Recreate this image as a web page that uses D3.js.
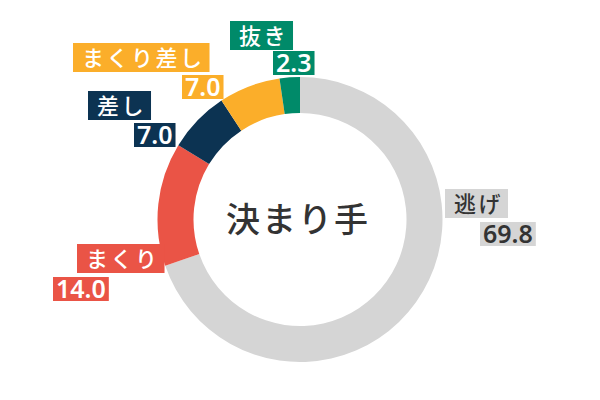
<!DOCTYPE html>
<html>
<head>
<meta charset="utf-8">
<script src="https://cdn.jsdelivr.net/npm/d3@7"></script>
<style>
  body { margin: 0; background: #fff; }
  text { font-family: "Noto Sans CJK JP", "Noto Sans", sans-serif; }
</style>
</head>
<body>
<div id="chart"></div>
<script>
var width = 600, height = 400;

// data
var categories = ["逃げ", "まくり", "差し", "まくり差し", "抜き"];
var values = [69.8, 14.0, 7.0, 7.0, 2.3];
var colors = ["#d5d5d5", "#ea5446", "#0c3352", "#fbae2a", "#008a69"];
var textColors = ["#333333", "#ffffff", "#ffffff", "#ffffff", "#ffffff"];
var centerTitle = "決まり手";

// label layout: top-left corner of name box and value box
var labelPos = [
    {nx: 445, ny: 189, vx: 480, vy: 222},
    {nx: 77, ny: 244, vx: 53, vy: 277},
    {nx: 88, ny: 91, vx: 134, vy: 123},
    {nx: 73, ny: 43, vx: 182, vy: 75},
    {nx: 230, ny: 21, vx: 273, vy: 51}
];

var cx = 300, cy = 219.5;
var outerR = 142.5, innerR = 106.5;

var svg = d3.select("#chart")
    .append("svg")
    .attr("width", width)
    .attr("height", height);

var data = categories.map(function(c, i) {
    return {name: c, value: values[i], color: colors[i], tc: textColors[i], pos: labelPos[i]};
});

var pie = d3.pie()
    .sort(null)
    .value(function(d) { return d.value; });

var arc = d3.arc()
    .innerRadius(innerR)
    .outerRadius(outerR);

var ring = svg.append("g")
    .attr("transform", `translate(${cx}, ${cy})`);

ring.selectAll("path")
    .data(pie(data))
    .enter()
    .append("path")
    .attr("d", arc)
    .style("fill", function(d) { return d.data.color; });

ring.append("text")
    .attr("x", -2)
    .attr("y", 0)
    .attr("dy", "0.36em")
    .style("text-anchor", "middle")
    .style("font-size", "34px")
    .style("font-weight", 500)
    .style("letter-spacing", "2px")
    .style("fill", "#333")
    .text(centerTitle);

// labels
var labels = svg.append("g");

data.forEach(function(d) {
    var g = labels.append("g");

    var nameBox = g.append("rect").style("fill", d.color);
    var nameText = g.append("text")
        .attr("x", d.pos.nx + 9)
        .attr("y", d.pos.ny + 15)
        .attr("dy", "0.36em")
        .style("font-size", "22px")
        .style("font-weight", 500)
        .style("letter-spacing", "2.5px")
        .style("fill", d.tc)
        .text(d.name);
    var nb = nameText.node().getBBox();
    nameBox.attr("x", d.pos.nx)
        .attr("y", d.pos.ny)
        .attr("width", nb.width + 14)
        .attr("height", 29);

    var valBox = g.append("rect").style("fill", d.color);
    var valText = g.append("text")
        .attr("x", d.pos.vx + 3)
        .attr("y", d.pos.vy + 12)
        .attr("dy", "0.36em")
        .style("font-family", "'Noto Sans', sans-serif")
        .style("font-size", "25px")
        .style("font-weight", 600)
        .style("fill", d.tc)
        .text(d.value.toFixed(1));
    var vb = valText.node().getBBox();
    valBox.attr("x", d.pos.vx)
        .attr("y", d.pos.vy)
        .attr("width", vb.width + 6)
        .attr("height", 24);
});
</script>
</body>
</html>
